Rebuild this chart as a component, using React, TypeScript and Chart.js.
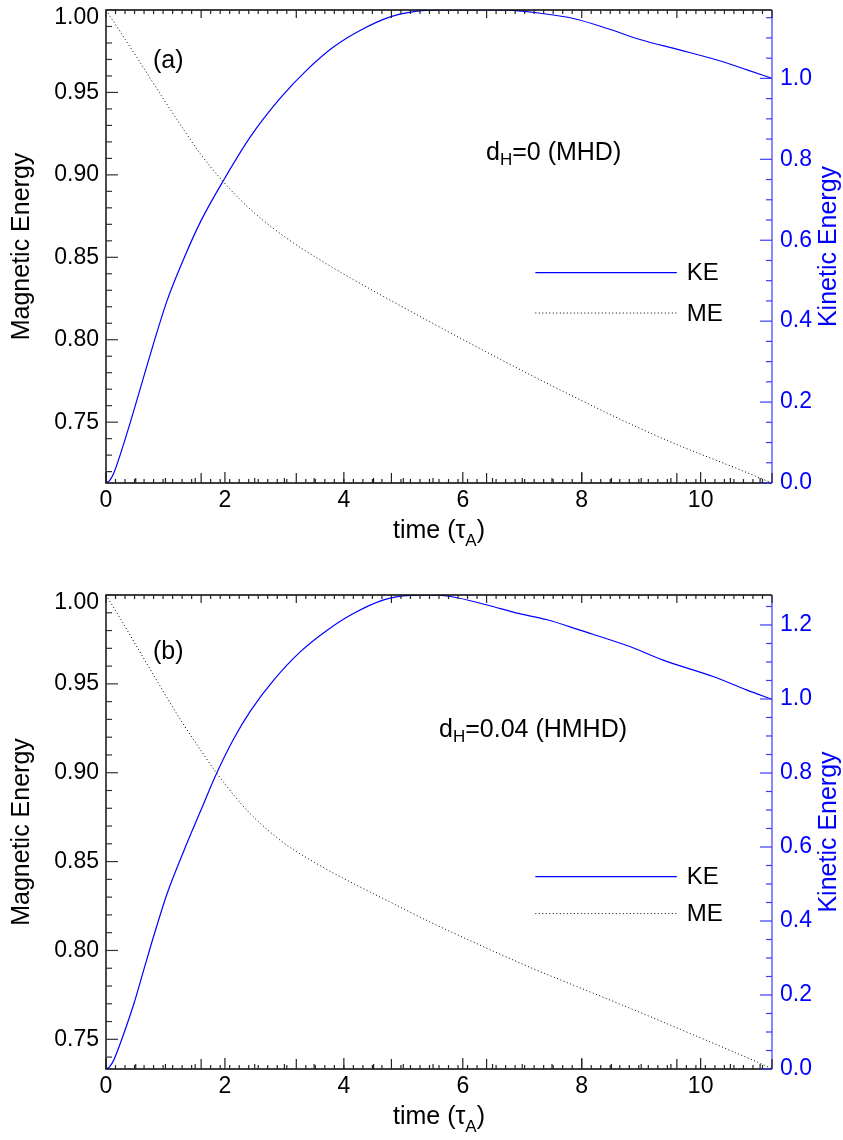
import React, { useEffect, useRef } from "react";
import { Chart, registerables } from "chart.js";

Chart.register(...registerables);

// ---------- data: panel (a) d_H = 0 (MHD) ----------
const KE_TIME_A = [0, 0.06, 0.13, 0.3, 0.47, 0.635, 0.8, 1.03, 1.31, 1.59, 1.98, 2.43, 2.93, 3.38, 3.83, 4.28, 4.78, 5.23, 5.62, 6.0, 6.5, 6.85, 7.3, 7.86, 8.42, 8.98, 9.66, 10.33, 10.78, 11.2];
const KE_A = [0, 0.006, 0.024, 0.098, 0.18, 0.263, 0.345, 0.452, 0.555, 0.646, 0.749, 0.856, 0.951, 1.021, 1.078, 1.119, 1.152, 1.166, 1.169, 1.169, 1.169, 1.168, 1.161, 1.148, 1.124, 1.096, 1.07, 1.043, 1.021, 1.0];
const ME_TIME_A = [0, 0.24, 0.47, 0.75, 1.03, 1.31, 1.59, 1.98, 2.43, 2.99, 3.55, 4.11, 4.78, 5.45, 6.29, 7.13, 7.97, 8.81, 9.66, 10.5, 11.2];
const ME_A = [1.0, 0.9868, 0.974, 0.9582, 0.9425, 0.9272, 0.9126, 0.8955, 0.879, 0.8628, 0.8495, 0.8375, 0.824, 0.8108, 0.7946, 0.7788, 0.7636, 0.749, 0.7355, 0.7235, 0.7131];

// ---------- data: panel (b) d_H = 0.04 (HMHD) ----------
const KE_TIME_B = [0, 0.06, 0.13, 0.3, 0.47, 0.635, 0.8, 1.03, 1.31, 1.59, 1.84, 2.15, 2.43, 2.82, 3.27, 3.72, 4.16, 4.67, 5.12, 5.45, 5.79, 6.41, 6.91, 7.42, 7.97, 8.82, 9.37, 10.22, 10.78, 11.2];
const KE_B = [0, 0.006, 0.024, 0.096, 0.177, 0.268, 0.358, 0.475, 0.59, 0.697, 0.792, 0.893, 0.968, 1.051, 1.128, 1.186, 1.231, 1.268, 1.28, 1.281, 1.277, 1.254, 1.232, 1.214, 1.186, 1.141, 1.105, 1.06, 1.024, 0.999];
const ME_TIME_B = [0, 0.24, 0.47, 0.75, 1.03, 1.31, 1.59, 1.84, 2.15, 2.43, 2.99, 3.55, 4.11, 4.78, 5.45, 6.29, 7.13, 7.97, 8.81, 9.66, 10.5, 11.06, 11.2];
const ME_B = [1.0, 0.9868, 0.9737, 0.9578, 0.942, 0.9268, 0.9128, 0.9007, 0.8874, 0.8768, 0.8605, 0.8487, 0.8385, 0.8272, 0.816, 0.803, 0.7905, 0.779, 0.7675, 0.7556, 0.7437, 0.7356, 0.7333];

// ---------- ticks / labels ----------
const TIME_MAX = 11.2;
const X_TICKS = [0, 2, 4, 6, 8, 10];
const ME_TICKS = [0.75, 0.8, 0.85, 0.9, 0.95, 1.0];
const KE_TICKS_A = [0, 0.2, 0.4, 0.6, 0.8, 1.0];
const KE_TICKS_B = [0, 0.2, 0.4, 0.6, 0.8, 1.0, 1.2];
const LEGEND_LABELS = ["KE", "ME"];
const LEGEND_KE_LEVELS = [0.52, 0.42];
const LEGEND_TIME = [7.22, 9.6];

const FONT = '"Liberation Sans", Arial, Helvetica, sans-serif';
const BLUE = "#0000ff";

type Panel = {
  key: string;
  keT: number[];
  ke: number[];
  meT: number[];
  me: number[];
  keTicks: number[];
  tag: string;
  dh: string;
  padTop: number;
  xHeight: number;
  tagDy: number;
  dhX: number;
  dhDy: number;
};

const PANELS: Panel[] = [
  { key: "a", keT: KE_TIME_A, ke: KE_A, meT: ME_TIME_A, me: ME_A, keTicks: KE_TICKS_A, tag: "(a)", dh: "=0 (MHD)", padTop: 10, xHeight: 87, tagDy: 51, dhX: 486, dhDy: 143 },
  { key: "b", keT: KE_TIME_B, ke: KE_B, meT: ME_TIME_B, me: ME_B, keTicks: KE_TICKS_B, tag: "(b)", dh: "=0.04 (HMHD)", padTop: 25, xHeight: 71, tagDy: 57, dhX: 439, dhDy: 135 },
];

function drawSubText(ctx: CanvasRenderingContext2D, x: number, y: number, parts: [string, boolean][], size: number) {
  let cx = x;
  for (const [txt, sub] of parts) {
    ctx.font = `${sub ? Math.round(size * 0.68) : size}px ${FONT}`;
    ctx.fillText(txt, cx, sub ? y + size * 0.3 : y);
    cx += ctx.measureText(txt).width;
  }
}

function measureSub(ctx: CanvasRenderingContext2D, parts: [string, boolean][], size: number) {
  let w = 0;
  for (const [txt, sub] of parts) {
    ctx.font = `${sub ? Math.round(size * 0.68) : size}px ${FONT}`;
    w += ctx.measureText(txt).width;
  }
  return w;
}

function decorPlugin(p: Panel) {
  return {
    id: "decor" + p.key,
    afterDraw(chart: any) {
      const { ctx, chartArea: a, scales } = chart;
      const xs = scales.x, ys = scales.y, y2 = scales.y2;
      ctx.save();
      ctx.lineCap = "butt";

      // --- frame ---
      ctx.lineWidth = 1.4;
      ctx.strokeStyle = "#000";
      ctx.beginPath();
      ctx.moveTo(a.right, a.top); ctx.lineTo(a.left, a.top); ctx.lineTo(a.left, a.bottom); ctx.lineTo(a.right, a.bottom);
      ctx.stroke();
      ctx.strokeStyle = "#5555ff";
      ctx.beginPath();
      ctx.moveTo(a.right, a.top); ctx.lineTo(a.right, a.bottom);
      ctx.stroke();

      // --- left ticks (ME) ---
      ctx.lineWidth = 1.2;
      ctx.strokeStyle = "#333";
      const yMin = ys.min, yMax = ys.max;
      for (let i = Math.ceil(yMin * 100 - 1e-6); i <= Math.floor(yMax * 100 + 1e-6); i++) {
        const v = i / 100;
        const len = i % 5 === 0 ? 12 : 6;
        const py = ys.getPixelForValue(v);
        ctx.beginPath(); ctx.moveTo(a.left, py); ctx.lineTo(a.left + len, py); ctx.stroke();
      }
      // --- right ticks (KE) ---
      ctx.strokeStyle = "#3a3aff";
      for (let i = 0; i <= Math.floor(y2.max * 20 + 1e-6); i++) {
        const v = i / 20;
        const len = i % 4 === 0 ? 12 : 6;
        const py = y2.getPixelForValue(v);
        ctx.beginPath(); ctx.moveTo(a.right, py); ctx.lineTo(a.right - len, py); ctx.stroke();
      }
      // --- bottom / top ticks ---
      ctx.strokeStyle = "#222";
      for (let i = 0; i * 0.5 <= TIME_MAX + 1e-6; i++) {
        const px = xs.getPixelForValue(i * 0.5);
        const len = i % 4 === 0 ? 11 : 5;
        ctx.beginPath(); ctx.moveTo(px, a.bottom); ctx.lineTo(px, a.bottom - len); ctx.stroke();
      }
      for (let i = 0; i * 0.16 <= TIME_MAX + 1e-6; i++) {
        const px = xs.getPixelForValue(i * 0.16);
        const major = i % 10 === 0;
        ctx.beginPath(); ctx.moveTo(px, a.bottom); ctx.lineTo(px, a.bottom - (major ? 10 : 4)); ctx.stroke();
        ctx.beginPath(); ctx.moveTo(px, a.top); ctx.lineTo(px, a.top + (major ? 8 : 4)); ctx.stroke();
      }

      // --- top ME tick label (kept inside the page, as in the original) ---
      const topTick = ME_TICKS[ME_TICKS.length - 1];
      ctx.fillStyle = "#000";
      ctx.font = `23px ${FONT}`;
      ctx.textAlign = "right";
      ctx.textBaseline = "middle";
      ctx.fillText(topTick.toFixed(2), a.left - 7, ys.getPixelForValue(topTick) + 8);

      // --- axis titles ---
      ctx.textBaseline = "alphabetic";
      ctx.textAlign = "left";
      const tParts: [string, boolean][] = [["time (\u03c4", false], ["A", true], [")", false]];
      const tw = measureSub(ctx, tParts, 25);
      drawSubText(ctx, (a.left + a.right) / 2 - tw / 2, a.bottom + 55, tParts, 25);

      ctx.font = `25px ${FONT}`;
      ctx.textAlign = "center";
      ctx.textBaseline = "middle";
      ctx.save();
      ctx.translate(22, (a.top + a.bottom) / 2);
      ctx.rotate(-Math.PI / 2);
      ctx.fillText("Magnetic Energy", 0, 0);
      ctx.restore();
      ctx.save();
      ctx.fillStyle = BLUE;
      ctx.translate(829, (a.top + a.bottom) / 2);
      ctx.rotate(-Math.PI / 2);
      ctx.fillText("Kinetic Energy", 0, 0);
      ctx.restore();

      // --- panel tag ---
      ctx.fillStyle = "#000";
      ctx.font = `25px ${FONT}`;
      ctx.textAlign = "left";
      ctx.textBaseline = "middle";
      ctx.fillText(p.tag, 153, a.top + p.tagDy);

      // --- d_H annotation ---
      ctx.textBaseline = "middle";
      drawSubText(ctx, p.dhX, a.top + p.dhDy, [["d", false], ["H", true], [p.dh, false]], 25);

      // --- legend ---
      const lx0 = xs.getPixelForValue(LEGEND_TIME[0]);
      const lx1 = xs.getPixelForValue(LEGEND_TIME[1]);
      LEGEND_LABELS.forEach((lab, i) => {
        const ly = y2.getPixelForValue(LEGEND_KE_LEVELS[i]);
        ctx.beginPath();
        if (i === 0) {
          ctx.strokeStyle = BLUE; ctx.lineWidth = 1.2; ctx.setLineDash([]);
        } else {
          ctx.strokeStyle = "#000"; ctx.lineWidth = 1; ctx.setLineDash([1, 2.5]);
        }
        ctx.moveTo(lx0, ly); ctx.lineTo(lx1, ly); ctx.stroke();
        ctx.setLineDash([]);
        ctx.fillStyle = "#000";
        ctx.font = `24px ${FONT}`;
        ctx.textBaseline = "middle";
        ctx.fillText(lab, lx1 + 10, ly + 1);
      });
      ctx.restore();
    },
  };
}

function zeroPad(s: any) {
  s.paddingTop = 0;
  s.paddingBottom = 0;
  s.paddingLeft = 0;
  s.paddingRight = 0;
}

function makeConfig(p: Panel): any {
  const meMin = Math.min(...p.me);
  const keMax = Math.max(...p.ke);
  const tickFont = { family: FONT, size: 23 };
  const topTick = ME_TICKS[ME_TICKS.length - 1];
  return {
    type: "line",
    data: {
      datasets: [
        {
          label: "KE",
          data: p.keT.map((t, i) => ({ x: t, y: p.ke[i] })),
          yAxisID: "y2",
          borderColor: BLUE,
          borderWidth: 1.2,
          pointRadius: 0,
          cubicInterpolationMode: "monotone",
          fill: false,
        },
        {
          label: "ME",
          data: p.meT.map((t, i) => ({ x: t, y: p.me[i] })),
          yAxisID: "y",
          borderColor: "#000",
          borderWidth: 1,
          borderDash: [1, 2.5],
          pointRadius: 0,
          cubicInterpolationMode: "monotone",
          fill: false,
        },
      ],
    },
    options: {
      animation: false,
      responsive: false,
      maintainAspectRatio: false,
      layout: { padding: { top: p.padTop, left: 0, right: 0, bottom: 0 } },
      plugins: { legend: { display: false }, tooltip: { enabled: false }, title: { display: false } },
      scales: {
        x: {
          type: "linear",
          position: "bottom",
          min: 0,
          max: TIME_MAX,
          grid: { display: false, drawTicks: false },
          border: { display: false },
          afterBuildTicks: (s: any) => { s.ticks = X_TICKS.map((v) => ({ value: v })); },
          afterFit: (s: any) => { s.height = p.xHeight; zeroPad(s); },
          ticks: { font: tickFont, color: "#000", padding: 4, maxRotation: 0, autoSkip: false, callback: (v: any) => String(v) },
        },
        y: {
          type: "linear",
          position: "left",
          min: meMin,
          max: 1.0,
          grid: { display: false, drawTicks: false },
          border: { display: false },
          afterBuildTicks: (s: any) => { s.ticks = ME_TICKS.map((v) => ({ value: v })); },
          afterFit: (s: any) => { s.width = 106; zeroPad(s); },
          ticks: {
            font: tickFont,
            color: "#000",
            padding: 7,
            callback: (v: any) => (Math.abs(Number(v) - topTick) < 1e-9 ? "" : Number(v).toFixed(2)),
          },
        },
        y2: {
          type: "linear",
          position: "right",
          min: 0,
          max: keMax,
          grid: { display: false, drawTicks: false },
          border: { display: false },
          afterBuildTicks: (s: any) => { s.ticks = p.keTicks.map((v) => ({ value: v })); },
          afterFit: (s: any) => { s.width = 71; zeroPad(s); },
          ticks: { font: tickFont, color: BLUE, padding: 8, callback: (v: any) => Number(v).toFixed(1) },
        },
      },
    },
    plugins: [decorPlugin(p)],
  };
}

function PanelChart({ panel, top }: { panel: Panel; top: number }) {
  const ref = useRef<HTMLCanvasElement | null>(null);
  useEffect(() => {
    if (!ref.current) return;
    const chart = new Chart(ref.current, makeConfig(panel));
    return () => chart.destroy();
  }, [panel]);
  return (
    <canvas
      ref={ref}
      width={843}
      height={570}
      style={{ position: "absolute", left: 0, top, width: 843, height: 570, display: "block" }}
    />
  );
}

export default function App() {
  useEffect(() => {
    document.body.style.margin = "0";
    document.body.style.background = "#fff";
  }, []);
  return (
    <div style={{ position: "relative", width: 843, height: 1140, background: "#fff", overflow: "hidden" }}>
      <PanelChart panel={PANELS[0]} top={0} />
      <PanelChart panel={PANELS[1]} top={570} />
    </div>
  );
}
